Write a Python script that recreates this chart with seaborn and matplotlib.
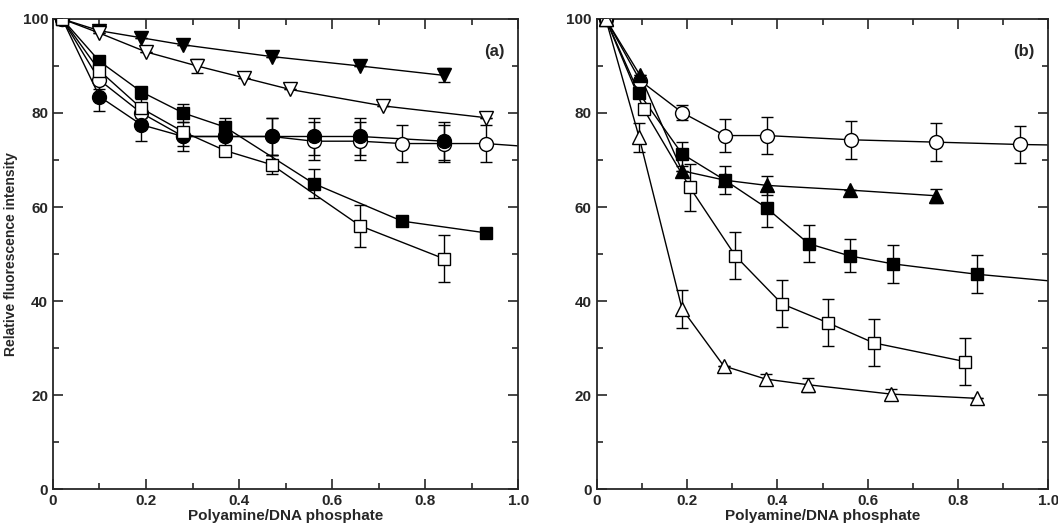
import numpy as np
import matplotlib
matplotlib.use('Agg')
import matplotlib.pyplot as plt
import seaborn as sns

sns.set_style('ticks')
plt.rcParams['font.family'] = ['Liberation Sans', 'DejaVu Sans']

# panel (a)
a_tri_f_x = [0.02, 0.10, 0.19, 0.28, 0.47, 0.66, 0.84]
a_tri_f_y = [100, 97.5, 96, 94.5, 92, 90, 88]
a_tri_f_e = [0, 0, 0, 0, 0, 0, 1.5]
a_tri_o_x = [0.02, 0.10, 0.20, 0.31, 0.41, 0.51, 0.71, 0.93]
a_tri_o_y = [100, 97, 93, 90, 87.5, 85, 81.5, 79]
a_tri_o_e = [0, 0, 0, 1.5, 0, 0, 0, 0]
a_cir_o_x = [0.02, 0.10, 0.19, 0.28, 0.37, 0.47, 0.56, 0.66, 0.75, 0.84, 0.93, 1.0]
a_cir_o_y = [100, 87, 80, 75, 75, 75, 74, 74, 73.5, 73.5, 73.5, 73]
a_cir_o_e = [0, 2, 2, 2, 3, 4, 4, 4, 4, 4, 4, 0]
a_cir_f_x = [0.02, 0.10, 0.19, 0.28, 0.37, 0.47, 0.56, 0.66, 0.84]
a_cir_f_y = [100, 83.5, 77.5, 75, 75, 75, 75, 75, 74]
a_cir_f_e = [0, 3, 3.5, 3, 3, 4, 4, 4, 4]
a_sq_f_x = [0.02, 0.10, 0.19, 0.28, 0.37, 0.56, 0.75, 0.93]
a_sq_f_y = [100, 91, 84.5, 80, 77, 65, 57, 54.5]
a_sq_f_e = [0, 0, 0, 2, 2, 3, 0, 0]
a_sq_o_x = [0.02, 0.10, 0.19, 0.28, 0.37, 0.47, 0.66, 0.84]
a_sq_o_y = [100, 89, 81, 76, 72, 69, 56, 49]
a_sq_o_e = [0, 0, 2, 0, 0, 2, 4.5, 5]

# panel (b)
b_cir_o_x = [0.02, 0.096, 0.189, 0.284, 0.376, 0.563, 0.75, 0.937, 1.0]
b_cir_o_y = [100, 86.9, 80.1, 75.2, 75.2, 74.3, 73.8, 73.3, 73.2]
b_cir_o_e = [0, 0, 1.5, 3.5, 4, 4, 4, 4, 0]
b_tri_f_x = [0.02, 0.096, 0.189, 0.284, 0.376, 0.56, 0.75]
b_tri_f_y = [100, 88, 67.7, 65.7, 64.6, 63.6, 62.4]
b_tri_f_e = [0, 0, 0, 0, 2, 0, 1.5]
b_sq_f_x = [0.02, 0.093, 0.189, 0.284, 0.376, 0.469, 0.56, 0.656, 0.841, 1.0]
b_sq_f_y = [100, 84.3, 71.3, 65.7, 59.8, 52.2, 49.6, 47.9, 45.7, 44.3]
b_sq_f_e = [0, 0, 2.5, 3, 4, 4, 3.5, 4, 4, 0]
b_sq_o_x = [0.02, 0.104, 0.206, 0.307, 0.41, 0.511, 0.613, 0.816]
b_sq_o_y = [100, 80.8, 64.2, 49.6, 39.4, 35.4, 31.1, 27.1]
b_sq_o_e = [0, 0, 5, 5, 5, 5, 5, 5]
b_tri_o_x = [0.02, 0.094, 0.189, 0.281, 0.374, 0.467, 0.652, 0.841]
b_tri_o_y = [100, 74.8, 38.3, 26.2, 23.4, 22.2, 20.2, 19.3]
b_tri_o_e = [0, 3, 4, 0, 1, 1.5, 1, 0]


def draw(ax, x, y, e, marker, filled, size):
    # last point at x=1.0 is just where the line leaves the frame
    ax.plot(x, y, color='black', lw=1, zorder=2, clip_on=True)
    pts = [i for i in range(len(x)) if x[i] < 0.99]
    px = [x[i] for i in pts]
    py = [y[i] for i in pts]
    pe = [e[i] for i in pts]
    ax.errorbar(px, py, yerr=pe, fmt='none', ecolor='black', elinewidth=1,
                capsize=4, zorder=2)
    ax.plot(px, py, ls='none', marker=marker, ms=size,
            mfc='black' if filled else 'white', mec='black', mew=1, zorder=3)


fig = plt.figure(figsize=(10.58, 5.27), dpi=100)
ax1 = fig.add_axes([0.050, 0.072, 0.440, 0.892])
ax2 = fig.add_axes([0.564, 0.072, 0.427, 0.892])

draw(ax1, a_tri_f_x, a_tri_f_y, a_tri_f_e, 'v', True, 10)
draw(ax1, a_tri_o_x, a_tri_o_y, a_tri_o_e, 'v', False, 10)
draw(ax1, a_cir_o_x, a_cir_o_y, a_cir_o_e, 'o', False, 10)
draw(ax1, a_cir_f_x, a_cir_f_y, a_cir_f_e, 'o', True, 10)
draw(ax1, a_sq_f_x, a_sq_f_y, a_sq_f_e, 's', True, 8)
draw(ax1, a_sq_o_x, a_sq_o_y, a_sq_o_e, 's', False, 8)

draw(ax2, b_cir_o_x, b_cir_o_y, b_cir_o_e, 'o', False, 10)
draw(ax2, b_tri_f_x, b_tri_f_y, b_tri_f_e, '^', True, 10)
draw(ax2, b_sq_f_x, b_sq_f_y, b_sq_f_e, 's', True, 8)
draw(ax2, b_sq_o_x, b_sq_o_y, b_sq_o_e, 's', False, 8)
draw(ax2, b_tri_o_x, b_tri_o_y, b_tri_o_e, '^', False, 10)

for ax, lab in [(ax1, '(a)'), (ax2, '(b)')]:
    ax.set_xlim(0, 1.0)
    ax.set_ylim(0, 100)
    ax.set_xticks([0, 0.2, 0.4, 0.6, 0.8, 1.0])
    ax.set_xticklabels(['0', '0.2', '0.4', '0.6', '0.8', '1.0'])
    ax.set_xticks(np.arange(0.1, 1.0, 0.2), minor=True)
    ax.set_yticks([0, 20, 40, 60, 80, 100])
    ax.set_yticks(np.arange(10, 100, 20), minor=True)
    ax.tick_params(direction='in', which='both', top=True, right=True,
                   labelsize=11, width=1.2)
    ax.tick_params(which='major', length=7)
    ax.tick_params(which='minor', length=4)
    for s in ax.spines.values():
        s.set_linewidth(1.3)
    for t in ax.get_xticklabels() + ax.get_yticklabels():
        t.set_fontweight('bold')
    ax.set_xlabel('Polyamine/DNA phosphate', fontsize=11, fontweight='bold',
                  labelpad=1)
    ax.text(0.97, 0.93, lab, transform=ax.transAxes, ha='right', va='center',
            fontsize=12, fontweight='bold')

ax1.set_ylabel('Relative fluorescence intensity', fontsize=10,
               fontweight='bold')
ax1.yaxis.set_label_coords(-0.075, 0.5)

fig.savefig('out.png', dpi=100)
